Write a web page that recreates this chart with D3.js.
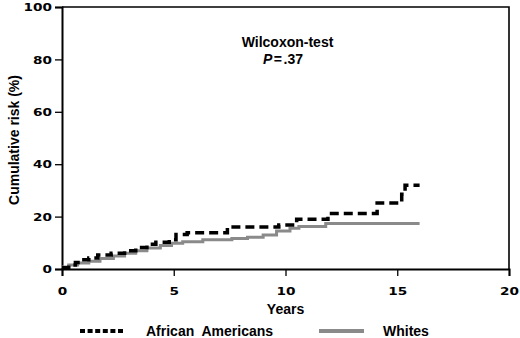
<!DOCTYPE html>
<html>
<head>
<meta charset="utf-8">
<script src="https://cdn.jsdelivr.net/npm/d3@7"></script>
<style>
  html, body { margin: 0; padding: 0; background: #fff; }
  svg { display: block; }
  .lbl { font-family: "Liberation Sans", Arial, sans-serif; font-weight: bold; font-size: 14px; fill: #000; }
  .tick text { font-family: "DejaVu Sans", sans-serif; font-weight: bold; font-size: 10.5px; fill: #000; }
</style>
</head>
<body>
<script>
// ---- data (Kaplan-Meier style step curves) ----
const seriesNames = ["African  Americans", "Whites"];
const aaYears = [0, 0.3, 0.6, 0.9, 1.2, 1.6, 2.2, 2.8, 3.3, 3.8, 4.2, 4.8, 5.1, 5.6, 7.4, 9.7, 10.5, 11.9, 14.1, 15.2, 15.35, 16.0];
const aaRisk  = [0.5, 1.5, 2.5, 3.5, 4.2, 5.3, 6.0, 7.0, 8.2, 9.4, 10.2, 11.2, 13.2, 13.8, 16.0, 16.8, 19.0, 21.2, 25.2, 28.5, 32.0, 32.0];
const whYears = [0, 0.3, 0.7, 1.2, 1.7, 2.3, 2.8, 3.3, 3.8, 4.4, 4.9, 5.4, 6.3, 7.6, 8.3, 9.0, 9.6, 10.2, 10.6, 11.8, 16.0];
const whRisk  = [0.8, 1.5, 2.3, 3.0, 4.0, 5.0, 6.0, 7.0, 8.0, 9.0, 9.8, 10.4, 11.2, 11.6, 12.1, 13.0, 14.5, 15.6, 16.2, 17.4, 17.4];
const xTicks = [0, 5, 10, 15, 20];
const yTicks = [0, 20, 40, 60, 80, 100];
const testLabel = "Wilcoxon-test";
const pLabel = ".37";

const W = 520, H = 338;
const svg = d3.select("body").append("svg").attr("width", W).attr("height", H);

const x = d3.scaleLinear().domain([0, 20]).range([62, 509]);
const y = d3.scaleLinear().domain([0, 100]).range([269, 7]);

// frame (top & right)
svg.append("path")
  .attr("d", `M${x(0)},${y(100)}H${x(20)}V${y(0)}`)
  .attr("fill", "none").attr("stroke", "#000").attr("stroke-width", 1.6);

const SX = 1.3;
// y axis
const gy = svg.append("g").attr("transform", `translate(${x(0)},0)`)
  .call(d3.axisLeft(y).tickValues(yTicks).tickSize(7).tickPadding(0));
gy.select(".domain").attr("stroke-width", 2);
gy.selectAll(".tick line").attr("stroke-width", 1.3);
gy.selectAll(".tick text").attr("x", -10 / SX).attr("transform", `scale(${SX},1)`).attr("dy", "0.36em");

// x axis
const gx = svg.append("g").attr("transform", `translate(0,${y(0)})`)
  .call(d3.axisBottom(x).tickValues(xTicks).tickSize(7).tickPadding(0));
gx.select(".domain").attr("stroke-width", 2);
gx.selectAll(".tick line").attr("stroke-width", 1.3);
gx.selectAll(".tick text").attr("y", 26.5).attr("dy", 0).attr("x", 0)
  .style("transform", `scaleX(${SX})`).style("transform-box", "fill-box").style("transform-origin", "center");

// axis titles
svg.append("text").attr("class", "lbl").attr("x", x(10)).attr("y", 314)
  .attr("text-anchor", "middle").text("Years");
svg.append("text").attr("class", "lbl")
  .attr("transform", `translate(19,${140}) rotate(-90)`)
  .attr("text-anchor", "middle").text("Cumulative risk (%)");

// curves
const line = d3.line().curve(d3.curveStepAfter).x(d => x(d[0])).y(d => y(d[1]));
const wh = whYears.map((t, i) => [t, whRisk[i]]);
const aa = aaYears.map((t, i) => [t, aaRisk[i]]);
svg.append("path").datum(wh).attr("d", line)
  .attr("fill", "none").attr("stroke", "#8a8a8a").attr("stroke-width", 3);
svg.append("path").datum(aa).attr("d", line)
  .attr("fill", "none").attr("stroke", "#000").attr("stroke-width", 3.5)
  .attr("stroke-dasharray", "9,5");

// annotation
svg.append("text").attr("class", "lbl").attr("x", 287.5).attr("y", 47)
  .attr("text-anchor", "middle").text(testLabel);
const pt = svg.append("text").attr("class", "lbl").attr("x", 263).attr("y", 64);
pt.append("tspan").style("font-style", "italic").text("P");
pt.append("tspan").attr("dx", 1.5).text("=");
pt.append("tspan").attr("dx", 1.5).text(pLabel);

// legend
svg.append("line").attr("x1", 80).attr("x2", 125).attr("y1", 331).attr("y2", 331)
  .attr("stroke", "#000").attr("stroke-width", 4).attr("stroke-dasharray", "5,2.6");
svg.append("text").attr("class", "lbl").attr("x", 146).attr("y", 336)
  .attr("xml:space", "preserve").style("white-space", "pre").text(seriesNames[0]);
svg.append("line").attr("x1", 319).attr("x2", 364).attr("y1", 331).attr("y2", 331)
  .attr("stroke", "#8a8a8a").attr("stroke-width", 4);
svg.append("text").attr("class", "lbl").attr("x", 383).attr("y", 336).text(seriesNames[1]);
</script>
</body>
</html>
